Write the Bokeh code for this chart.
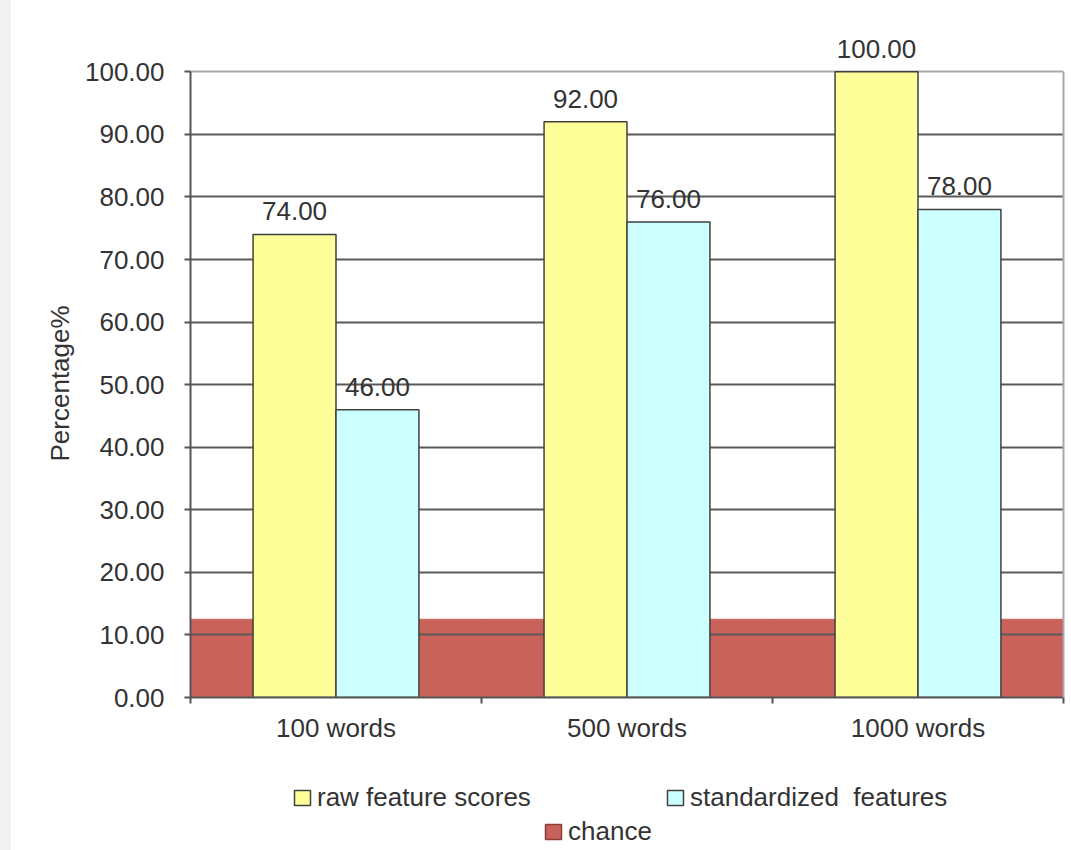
from bokeh.plotting import figure
from bokeh.models import (ColumnDataSource, Range1d, FixedTicker, NumeralTickFormatter,
                          Legend, LegendItem, Spacer, LabelSet, LinearAxis, Grid, Title)
from bokeh.layouts import row, column
from bokeh.core.properties import value
from bokeh.embed import file_html
from bokeh.resources import INLINE

# Classification accuracy by text length
categories = ["100 words", "500 words", "1000 words"]
raw_scores = [74.0, 92.0, 100.0]
standardized = [46.0, 76.0, 78.0]
chance = [12.5, 12.5, 12.5]
y_ticks = [0, 10, 20, 30, 40, 50, 60, 70, 80, 90, 100]
series_names = ["raw feature scores", "standardized  features", "chance"]
y_title = "Percentage%"

FONT = "Liberation Sans"
FS = "26px"
TEXT = "#333333"
DARK = "#555555"
FRAME = "#a8a8a8"
RAW = "#FFFF99"
STD = "#CCFFFF"
CHANCE = "#C9625A"
EDGE = "#404040"
BAR_W = 0.285
OFF = 0.1425
Y_MAX = y_ticks[-1]

centers = [i + 0.5 for i in range(len(categories))]
src = ColumnDataSource(dict(
    x=centers,
    x_raw=[c - OFF for c in centers],
    x_std=[c + OFF for c in centers],
    raw=raw_scores,
    std=standardized,
    chance=chance,
    raw_lbl=[f"{v:.2f}" for v in raw_scores],
    std_lbl=[f"{v:.2f}" for v in standardized],
))

# headroom above 100 keeps the value labels of the tallest bars inside the frame
p = figure(width=1060, height=745,
           x_range=Range1d(0, len(categories)), y_range=Range1d(0, 106.6),
           output_backend="svg", toolbar_location=None,
           min_border_left=179, min_border_right=8,
           min_border_top=30, min_border_bottom=48,
           background_fill_color="white", border_fill_color="white")
p.outline_line_color = None

# chance level spans each whole category, drawn beneath the grid
r_chance = p.vbar(x="x", top="chance", width=1.0, source=src,
                  fill_color=CHANCE, line_color=CHANCE, line_width=1, level="image")
p.vbar(x="x_raw", top="raw", width=BAR_W, source=src,
       fill_color=RAW, line_color=EDGE, line_width=1.5)
p.vbar(x="x_std", top="std", width=BAR_W, source=src,
       fill_color=STD, line_color=EDGE, line_width=1.5)

label_kw = dict(text_align="center", text_baseline="alphabetic", y_offset=14,
                text_font=value(FONT), text_font_size=FS, text_color=TEXT, source=src)
p.add_layout(LabelSet(x="x_raw", y="raw", text="raw_lbl", **label_kw))
p.add_layout(LabelSet(x="x_std", y="std", text="std_lbl", **label_kw))

# y axis
ya = p.yaxis[0]
ya.bounds = (0, Y_MAX)
ya.ticker = FixedTicker(ticks=y_ticks)
ya.formatter = NumeralTickFormatter(format="0.00")
ya.major_tick_out = 6
ya.major_tick_in = 0
ya.minor_tick_out = 0
ya.minor_tick_in = 0
ya.major_tick_line_color = DARK
ya.major_tick_line_width = 2
ya.axis_line_color = DARK
ya.axis_line_width = 2
ya.major_label_standoff = 20
ya.major_label_text_font = FONT
ya.major_label_text_font_size = FS
ya.major_label_text_color = TEXT

# axis title, centred on the 0-100 span rather than the whole frame
p.add_layout(Title(text=y_title, align="left", offset=236, standoff=14,
                   text_font=FONT, text_font_size=FS, text_font_style="normal",
                   text_color=TEXT), "left")

# right edge of the plot area
right_edge = LinearAxis(bounds=(0, Y_MAX), ticker=FixedTicker(ticks=[]),
                        axis_line_color=FRAME, axis_line_width=2,
                        major_tick_line_color=None, minor_tick_line_color=None,
                        major_label_text_alpha=0)
p.add_layout(right_edge, "right")

# x axis: labels at category centres, ticks at category boundaries
xa = p.xaxis[0]
xa.ticker = FixedTicker(ticks=centers, minor_ticks=list(range(len(categories) + 1)))
xa.major_label_overrides = {c: name for c, name in zip(centers, categories)}
xa.major_tick_out = 0
xa.major_tick_in = 0
xa.minor_tick_out = 6
xa.minor_tick_in = 0
xa.minor_tick_line_color = DARK
xa.minor_tick_line_width = 2
xa.axis_line_color = DARK
xa.axis_line_width = 2
xa.major_label_standoff = 9
xa.major_label_text_font = FONT
xa.major_label_text_font_size = FS
xa.major_label_text_color = TEXT

p.xgrid.visible = False
p.ygrid.ticker = FixedTicker(ticks=y_ticks[1:-1])
p.ygrid.grid_line_color = "#5a5a5a"
p.ygrid.grid_line_width = 2
p.add_layout(Grid(dimension=1, ticker=FixedTicker(ticks=[Y_MAX]),
                  grid_line_color=FRAME, grid_line_width=2))

# legend strip under the chart; its key renderers are hidden, only their swatches show
lf = figure(width=1060, height=105,
            x_range=Range1d(0, len(categories)), y_range=Range1d(0, Y_MAX),
            x_axis_type=None, y_axis_type=None,
            output_backend="svg", toolbar_location=None,
            min_border=0, min_border_left=0, min_border_right=0,
            min_border_top=0, min_border_bottom=0,
            background_fill_color="white", border_fill_color="white")
lf.outline_line_color = None
lf.xgrid.visible = False
lf.ygrid.visible = False

key_specs = [("x_raw", "raw", RAW, EDGE), ("x_std", "std", STD, EDGE),
             ("x", "chance", CHANCE, "#8a3f38")]
key_locs = [(102, 37), (475, 37), (353, 3)]
for name, (xf, tf, fill, line), loc in zip(series_names, key_specs, key_locs):
    key = lf.vbar(x=xf, top=tf, width=BAR_W, source=src, visible=False,
                  fill_color=fill, line_color=line, line_width=1.5)
    lf.add_layout(Legend(items=[LegendItem(label=name, renderers=[key])],
                         location=loc, orientation="horizontal",
                         click_policy="none",
                         inactive_fill_alpha=0,
                         border_line_color=None, background_fill_alpha=0,
                         padding=0, margin=0, spacing=0,
                         glyph_width=20, glyph_height=19, label_height=19,
                         label_standoff=5,
                         label_text_font=FONT, label_text_font_size=FS,
                         label_text_color=TEXT))

edge = Spacer(width=11, height=850, styles={"background-color": "#f3f3f3"})
layout = row(edge, column(p, lf))

open("out.html", "w").write(file_html(layout, INLINE))
